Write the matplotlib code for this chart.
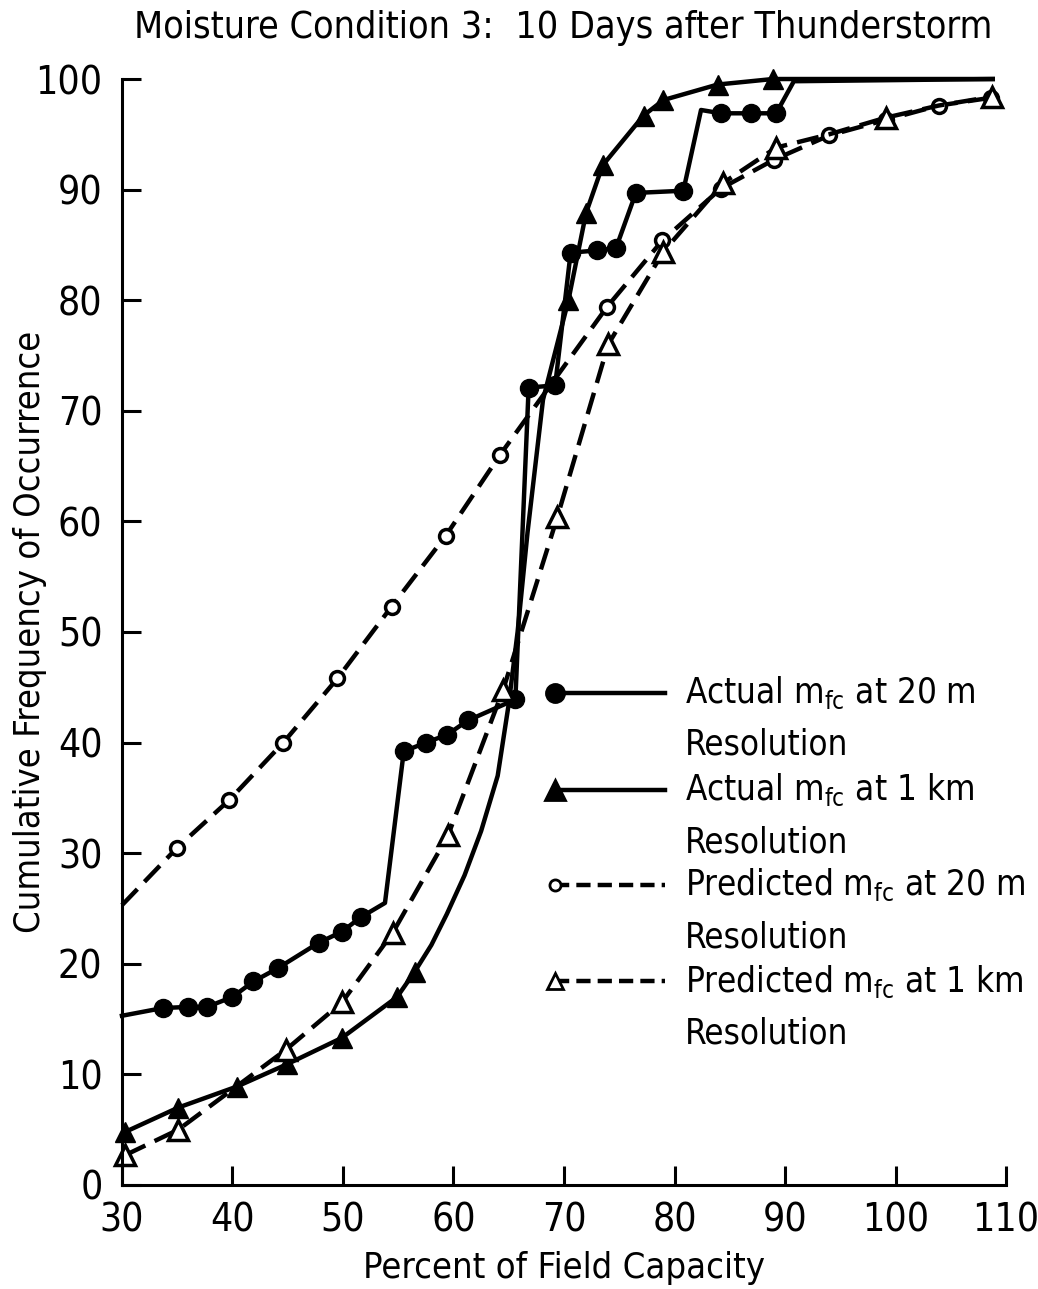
import numpy as np
import matplotlib
matplotlib.use("Agg")
import matplotlib.pyplot as plt
from matplotlib.lines import Line2D

plt.rcParams['font.family'] = ['DejaVu Sans']
plt.rcParams['font.stretch'] = 'condensed'
plt.rcParams['mathtext.fontset'] = 'custom'
plt.rcParams['mathtext.rm'] = 'DejaVu Sans:stretch=condensed'

# actual m_fc at 20 m (filled circles, step-like polyline)
act20_x = [30, 33.7, 36.0, 37.7, 40.0, 41.9, 44.1, 47.8, 49.9, 51.6, 53.8, 55.5, 57.5, 59.4,
           61.3, 65.6, 66.8, 69.2, 70.6, 73.0, 74.7, 76.5, 80.8, 82.4, 84.2, 86.9, 89.2, 90.8, 108.8]
act20_y = [15.3, 16.0, 16.1, 16.1, 17.0, 18.4, 19.6, 21.9, 22.9, 24.2, 25.5, 39.2, 40.0, 40.7,
           42.0, 43.9, 72.1, 72.3, 84.3, 84.5, 84.7, 89.7, 89.9, 97.2, 96.9, 96.9, 96.9, 99.8, 100]
act20_mark = [1, 2, 3, 4, 5, 6, 7, 8, 9, 11, 12, 13, 14, 15, 16, 17, 18, 19, 20, 21, 22, 24, 25, 26]

# actual m_fc at 1 km (filled triangles, smooth curve)
act1_x = [30.3, 35.1, 40.4, 44.9, 49.9, 54.9, 56.5, 58.0, 59.4, 61.0, 62.5, 64.0, 65.0, 65.8,
          66.7, 68.1, 70.4, 72.0, 73.5, 77.2, 79.0, 83.9, 88.9, 108.8]
act1_y = [4.8, 7.0, 8.9, 10.9, 13.3, 17.0, 19.3, 21.7, 24.5, 28.0, 32.0, 37.0, 43.5, 50.0,
          59.0, 71.0, 80.0, 87.9, 92.2, 96.7, 98.1, 99.5, 100.0, 100.0]
act1_mark = [0, 1, 2, 3, 4, 5, 6, 16, 17, 18, 19, 20, 21, 22]

# predicted m_fc at 20 m (open circles, dashed)
pred20_x = [30, 35.0, 39.7, 44.6, 49.5, 54.4, 59.3, 64.2, 73.9, 78.9, 84.2, 89.0, 94.0, 99.1, 103.9, 108.6]
pred20_y = [25.3, 30.5, 34.8, 40.0, 45.8, 52.3, 58.7, 66.0, 79.4, 85.4, 90.1, 92.7, 94.9, 96.3, 97.6, 98.3]
pred20_mark = list(range(1, 16))

# predicted m_fc at 1 km (open triangles, dashed)
pred1_x = [30.3, 35.1, 44.8, 49.9, 54.5, 59.5, 64.5, 69.4, 74.0, 79.0, 84.4, 89.2, 94.0, 99.1, 103.9, 108.7]
pred1_y = [2.7, 5.0, 12.2, 16.5, 22.8, 31.6, 44.8, 60.4, 76.0, 84.4, 90.6, 93.8, 95.0, 96.5, 97.6, 98.4]
pred1_mark = [0, 1, 2, 3, 4, 5, 6, 7, 8, 9, 10, 11, 13, 15]

labels = [r"Actual m$_{\mathrm{fc}}$ at 20 m", r"Actual m$_{\mathrm{fc}}$ at 1 km",
          r"Predicted m$_{\mathrm{fc}}$ at 20 m", r"Predicted m$_{\mathrm{fc}}$ at 1 km"]

xticks = np.arange(30, 111, 10)
yticks = np.arange(0, 101, 10)

fig = plt.figure(figsize=(10.38, 12.89), dpi=100)
ax = fig.add_axes([0.1175, 0.0807, 0.8517, 0.858])

lw = 3.2
dash = (5, 2.3)
ax.plot(act20_x, act20_y, color='black', lw=lw, marker='o', ms=13, markevery=act20_mark, clip_on=False)
ax.plot(act1_x, act1_y, color='black', lw=lw, marker='^', ms=14, markevery=act1_mark, clip_on=False)
ax.plot(pred20_x, pred20_y, color='black', lw=lw, dashes=dash, marker='o', ms=10, mfc='white',
        mew=2.5, markevery=pred20_mark, clip_on=False)
ax.plot(pred1_x, pred1_y, color='black', lw=lw, dashes=dash, marker='^', ms=14, mfc='white',
        mew=2.5, markevery=pred1_mark, clip_on=False)

ax.set_xlim(30, 110)
ax.set_ylim(0, 100)
ax.spines['top'].set_visible(False)
ax.spines['right'].set_visible(False)
for s in ['left', 'bottom']:
    ax.spines[s].set_linewidth(2.2)
ax.set_xticks(xticks)
ax.set_yticks(yticks)
ax.tick_params(direction='in', length=14, width=2.2, labelsize=28)
ax.tick_params(axis='x', pad=12)
ax.tick_params(axis='y', pad=14)

ax.set_xlabel("Percent of Field Capacity", fontsize=26, va='center')
ax.xaxis.set_label_coords(0.5, -0.075)
ax.set_ylabel("Cumulative Frequency of Occurrence", fontsize=26, va='center')
ax.yaxis.set_label_coords(-0.104, 0.5)
fig.text(0.543, 0.978, "Moisture Condition 3:  10 Days after Thunderstorm", fontsize=27,
         ha='center', va='center')

# legend drawn by hand: marker at the left end of each sample line
leg_y = [0.445, 0.357, 0.271, 0.184]
styles = [dict(marker='o', ms=13, mfc='black', ls='-'),
          dict(marker='^', ms=14, mfc='black', ls='-'),
          dict(marker='o', ms=8, mfc='white', ls='--'),
          dict(marker='^', ms=12, mfc='white', ls='--')]
for y, lab, st in zip(leg_y, labels, styles):
    ls = st.pop('ls')
    line = Line2D([0.49, 0.614], [y, y], transform=ax.transAxes, color='black', lw=lw,
                  markevery=[0], mew=2, **st)
    if ls == '--':
        line.set_dashes((3.2, 1.6))
    ax.add_line(line)
    ax.text(0.637, y, lab, transform=ax.transAxes, fontsize=25, va='center')
    ax.text(0.637, y - 0.047, "Resolution", transform=ax.transAxes, fontsize=25, va='center')

fig.savefig("out.png", dpi=100)
